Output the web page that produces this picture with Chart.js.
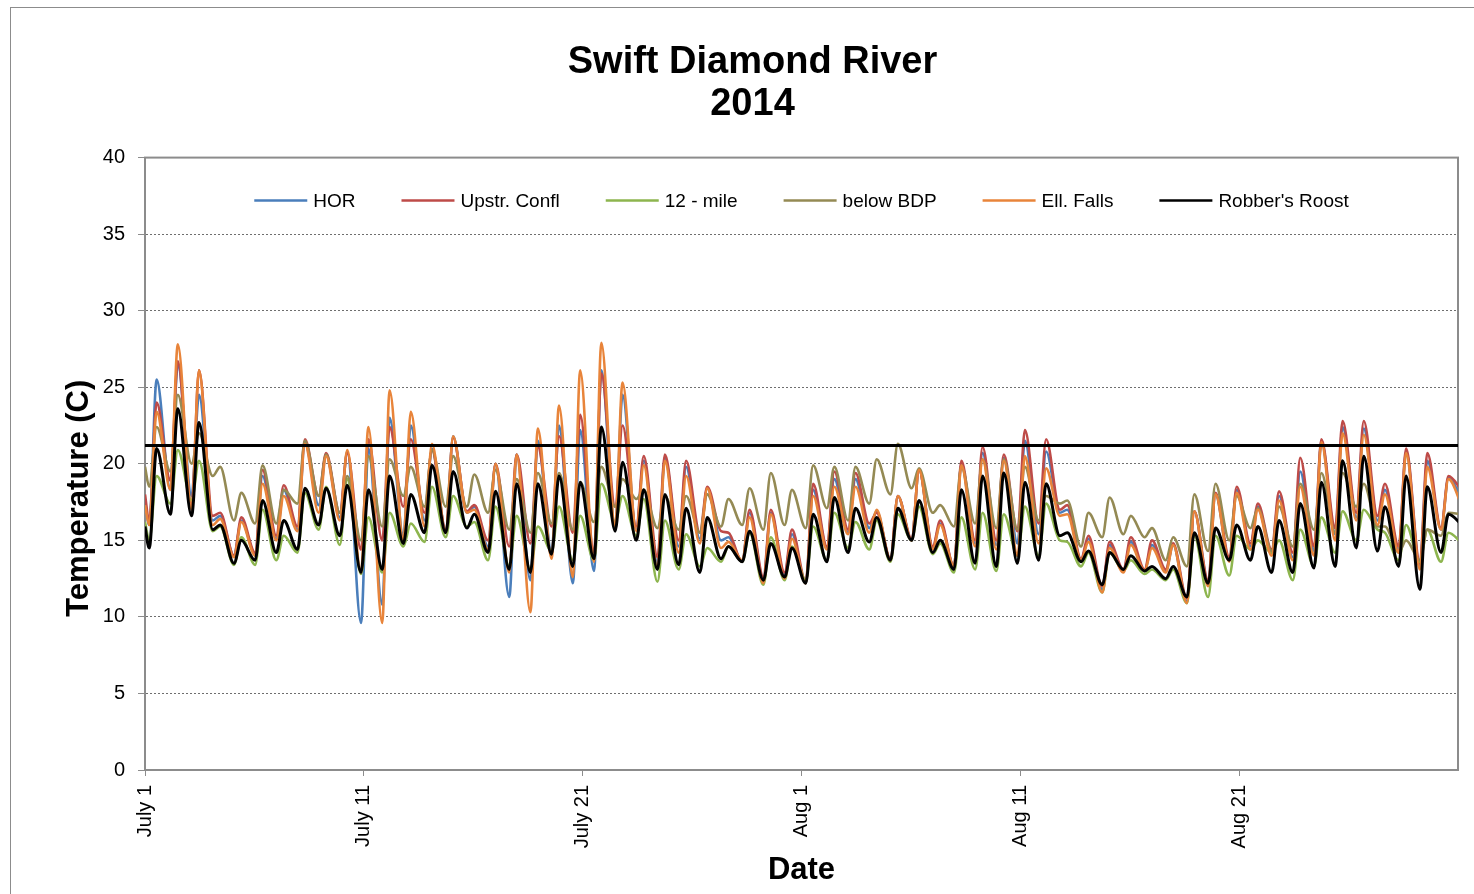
<!DOCTYPE html>
<html lang="en">
<head>
    <meta charset="UTF-8">
    <title>Swift Diamond River 2014</title>
    <style>
        html, body { margin: 0; padding: 0; background: #fff; overflow: hidden; }
        .frame {
            position: absolute; left: 10px; top: 7px;
            width: 1483px; height: 900px;
            border-top: 1px solid #8c8c8c; border-left: 1px solid #8c8c8c;
        }
        .frame canvas { display: block; }
    </style>
</head>
<body>
    <div class="frame"><canvas id="tempChart" width="1483" height="887"></canvas></div>

    <script src="https://cdn.jsdelivr.net/npm/chart.js"></script>
    <script>
        // x axis: days since July 1 (labels are evenly spaced on the original sheet)
        const totalDays = 62;
        const dateLabels = ['July 1', 'July 11', 'July 21', 'Aug 1', 'Aug 11', 'Aug 21'];
        const thresholdTemp = 21.2;

        const seriesNames = ['HOR', 'Upstr. Confl', '12 - mile', 'below BDP', 'Ell. Falls', "Robber's Roost"];
        const seriesColors = ['#4a7ebb', '#be4b48', '#8db54e', '#948a54', '#e8843a', '#000000'];

        // value at the very start of July 1
        const startTemps = [17.5, 18.0, 16.2, 19.8, 17.3, 15.9];

        // daily minimum (early morning) and maximum (afternoon), deg C
        const horLow = [16.0,18.3,17.9,16.3,14.0,14.1,15.1,15.7,17.3,16.5, 9.6,10.8,15.3,16.3,15.6,16.8,14.6,11.3,12.4,14.2,
            12.2,13.0,15.9,15.7,13.5,14.6,15.1,15.0,13.6,12.4, 12.7,12.2,14.5,15.5,15.8,13.7,15.0,14.5,13.3,14.8,
            14.7,14.8,15.4,16.8,13.7,11.8,13.0,13.0,13.0,11.0, 12.2,13.7,14.6,14.2,13.9,14.3,15.4,16.5,16.3,14.4, 13.3,15.7,17.6];
        const horHigh = [25.5,26.5,24.5,16.6,16.3,19.2,18.3,21.4,20.6,20.8, 21.0,23.0,22.5,21.0,21.8,17.2,20.0,20.6,21.5,22.5,
            22.2,26.1,24.5,20.2,20.4,19.8,18.4,15.2,16.8,16.8, 15.4,18.3,19.0,19.0,16.9,17.9,19.6,16.1,20.0,20.7,
            20.4,21.5,20.8,17.0,15.1,14.7,14.9,14.7,14.7,16.9, 18.0,18.3,17.2,17.9,19.5,21.5,22.4,22.3,18.3,20.8, 20.2,19.1];

        const upstrLow = [16.2,18.9,17.2,16.6,14.0,14.2,15.3,15.9,17.9,16.8, 14.4,15.0,17.2,16.8,15.7,16.9,15.0,14.6,14.8,15.9,
            15.5,14.2,17.2,15.9,13.9,15.0,15.5,15.6,13.6,12.6, 12.9,12.3,14.6,15.7,16.1,13.8,15.1,14.6,13.3,15.0,
            15.0,15.6,16.1,17.0,13.8,12.0,13.1,13.1,13.1,11.2, 12.4,13.9,14.8,14.4,14.2,14.6,15.8,16.8,16.6,14.6, 13.5,15.8,18.2];
        const upstrHigh = [24.0,26.7,26.1,16.8,16.5,19.6,18.6,21.6,20.7,20.7, 21.6,22.4,21.6,20.9,21.7,17.3,20.0,20.6,21.1,21.8,
            23.2,25.9,22.5,20.5,20.6,20.2,18.5,15.5,17.0,17.0, 15.7,18.7,19.5,19.4,16.8,17.9,19.6,16.3,20.2,21.1,
            20.6,22.2,21.6,17.3,15.3,14.9,15.2,15.0,14.8,16.9, 18.1,18.5,17.4,18.2,20.4,21.6,22.8,22.8,18.7,21.0, 20.7,19.2];

        const mileLow = [15.0,17.4,17.6,15.6,13.4,13.4,13.7,14.2,15.7,14.7, 12.8,12.9,14.6,14.9,15.2,15.9,13.7,13.3,13.1,14.3,
            13.7,13.7,16.2,15.3,12.3,13.1,13.3,13.6,13.6,12.1, 12.4,12.4,13.7,14.5,14.4,13.6,15.0,14.1,12.9,13.1,
            13.0,14.0,14.0,15.0,13.3,11.6,13.0,12.8,12.4,10.9, 11.3,12.7,14.4,14.2,12.4,13.3,14.2,15.0,15.7,13.7, 13.6,13.6,14.8];
        const mileHigh = [19.2,20.9,20.2,15.9,15.2,17.0,15.3,18.1,18.5,19.0, 16.5,16.8,16.1,18.5,17.9,16.2,17.2,16.6,15.9,17.2,
            16.6,18.7,17.9,17.7,16.3,15.4,14.5,14.6,15.5,15.2, 14.6,15.9,16.8,16.2,16.3,16.7,17.2,14.8,16.5,16.8,
            16.7,17.2,17.4,14.9,14.2,14.2,13.7,13.1,13.1,15.3, 15.3,15.3,15.0,15.0,15.7,16.5,16.9,17.0,15.5,16.0, 15.7,15.5];

        const bdpLow = [18.5,19.5,20.0,19.2,16.3,16.1,16.1,17.4,17.9,16.8, 15.0,15.9,17.9,17.2,17.2,17.2,16.8,15.7,15.5,16.1,
            15.7,16.2,17.2,17.7,15.8,15.7,15.5,15.9,16.0,15.7, 16.0,15.8,17.1,16.3,17.4,18.0,18.4,16.8,15.9,16.1,
            15.8,15.7,16.3,17.4,14.6,15.2,15.4,15.2,13.7,13.3, 14.3,15.0,15.8,14.3,14.6,15.7,15.5,17.2,15.9,14.2, 13.7,15.3,16.7];
        const bdpHigh = [22.4,24.5,22.0,19.8,18.1,19.9,18.3,21.5,20.6,19.2, 20.5,20.3,19.8,20.9,20.5,19.3,19.6,19.0,19.4,19.4,
            18.8,19.8,19.0,18.3,17.9,17.9,18.0,17.7,18.4,19.4, 18.3,19.9,19.8,19.8,20.3,21.3,19.7,17.3,19.8,20.3,
            20.3,19.8,17.9,17.6,16.8,17.8,16.6,15.8,15.2,18.0, 18.7,17.9,17.1,17.2,18.7,19.4,19.4,18.7,15.9,15.0, 15.7,16.8];

        const fallsLow = [16.0,18.3,17.0,16.0,13.9,14.0,15.0,15.6,16.8,16.3, 12.9,9.6,15.0,15.9,15.5,16.8,14.4,12.9,10.3,13.8,
            12.6,13.6,15.9,15.6,13.2,14.2,14.8,14.5,13.7,12.2, 12.5,12.2,14.4,15.4,15.5,13.7,15.0,14.4,13.3,14.6,
            14.4,14.0,14.8,16.6,13.7,11.6,12.9,13.0,12.9,10.9, 12.0,13.6,14.4,14.0,13.7,14.0,15.0,16.3,16.0,14.2, 13.1,15.7,17.2];
        const fallsHigh = [23.4,27.8,26.1,16.4,16.2,18.7,17.9,21.3,20.5,20.9, 22.4,24.8,23.4,21.3,21.8,17.0,20.0,20.6,22.3,23.8,
            26.1,27.9,25.3,19.9,20.2,19.2,18.4,14.9,16.5,16.7, 15.1,17.9,18.5,18.5,17.0,17.9,19.6,16.0,19.9,20.3,
            20.2,20.5,19.7,16.7,14.9,14.5,14.7,14.5,14.7,16.9, 18.0,18.1,17.0,17.6,18.5,21.4,22.0,21.9,18.0,20.7, 19.8,19.0];

        const roostLow = [14.5,16.7,16.6,15.7,13.5,13.7,14.2,14.4,16.0,15.3, 12.9,13.1,14.8,15.5,15.5,15.8,14.2,13.1,12.9,14.1,
            13.3,13.8,15.6,15.0,13.1,13.4,12.9,13.8,13.6,12.4, 12.6,12.2,13.6,14.2,14.9,13.7,15.0,14.2,13.1,13.5,
            13.3,13.5,13.7,15.3,13.6,12.1,13.1,13.0,12.5,11.3, 12.2,13.7,13.7,12.9,12.9,13.2,13.3,14.5,14.3,13.3, 11.8,14.2,16.0];
        const roostHigh = [21.0,23.6,22.7,16.0,15.0,17.6,16.3,18.4,18.4,18.6, 18.3,19.2,18.0,19.9,19.5,16.7,18.2,18.7,18.7,19.2,
            18.8,22.4,20.1,18.3,18.0,17.1,16.5,14.6,15.6,14.8, 14.5,16.7,17.8,17.1,16.5,17.1,17.6,15.0,18.3,19.2,
            19.4,18.8,18.7,15.5,14.3,14.2,14.0,13.3,13.3,15.5, 15.8,16.0,15.9,16.3,17.4,18.8,20.2,20.5,17.2,19.2, 18.5,16.7];

        const lowSets = [horLow, upstrLow, mileLow, bdpLow, fallsLow, roostLow];
        const highSets = [horHigh, upstrHigh, mileHigh, bdpHigh, fallsHigh, roostHigh];

        // min comes a little after midnight, max mid-afternoon
        function dailyCycle(start, lows, highs) {
            const pts = [{ x: 0, y: start }];
            for (let d = 0; d < lows.length; d++) {
                pts.push({ x: d + 0.2, y: lows[d] });
                if (d < highs.length) pts.push({ x: d + 0.55, y: highs[d] });
            }
            return pts;
        }

        const FONT = '"Liberation Sans", Arial, sans-serif';
        Chart.defaults.font.family = FONT;
        Chart.defaults.color = '#000';

        const datasets = seriesNames.map((name, i) => ({
            label: name,
            data: dailyCycle(startTemps[i], lowSets[i], highSets[i]),
            borderColor: seriesColors[i],
            backgroundColor: seriesColors[i],
            borderWidth: i === 5 ? 3 : 2.6,
            pointRadius: 0,
            cubicInterpolationMode: 'monotone',
            order: seriesNames.length - i
        }));
        datasets.push({
            label: 'threshold',
            data: [{ x: 0, y: thresholdTemp }, { x: totalDays, y: thresholdTemp }],
            borderColor: '#000',
            borderWidth: 3,
            pointRadius: 0,
            order: 0
        });

        // legend sits inside the plot area, as in the spreadsheet
        const insideLegend = {
            id: 'insideLegend',
            afterDatasetsDraw(chart) {
                const { ctx, chartArea } = chart;
                const lineLen = 53, textGap = 6, itemGap = 46;
                ctx.save();
                ctx.font = '19px ' + FONT;
                const widths = seriesNames.map(n => ctx.measureText(n).width);
                const total = widths.reduce((sum, w) => sum + lineLen + textGap + w, 0) + itemGap * (seriesNames.length - 1);
                let x = (chartArea.left + chartArea.right) / 2 - total / 2;
                const y = chartArea.top + 43;
                seriesNames.forEach((name, i) => {
                    ctx.strokeStyle = seriesColors[i];
                    ctx.lineWidth = 2.5;
                    ctx.beginPath();
                    ctx.moveTo(x, y);
                    ctx.lineTo(x + lineLen, y);
                    ctx.stroke();
                    ctx.fillStyle = '#000';
                    ctx.textBaseline = 'middle';
                    ctx.fillText(name, x + lineLen + textGap, y + 1);
                    x += lineLen + textGap + widths[i] + itemGap;
                });
                ctx.restore();
            }
        };

        // grey frame round the plot area
        const plotFrame = {
            id: 'plotFrame',
            beforeDatasetsDraw(chart) {
                const { ctx, chartArea } = chart;
                ctx.save();
                ctx.strokeStyle = '#8c8c8c';
                ctx.lineWidth = 2;
                ctx.strokeRect(chartArea.left, chartArea.top, chartArea.right - chartArea.left, chartArea.bottom - chartArea.top);
                ctx.restore();
            }
        };

        const ctx = document.getElementById('tempChart').getContext('2d');
        new Chart(ctx, {
            type: 'line',
            data: { datasets },
            plugins: [plotFrame, insideLegend],
            options: {
                responsive: false,
                animation: false,
                layout: { padding: 0 },
                plugins: {
                    legend: { display: false },
                    tooltip: { enabled: false },
                    title: {
                        display: true,
                        text: ['Swift Diamond River', '2014'],
                        color: '#000',
                        font: { size: 38, weight: 'bold', lineHeight: 1.1 },
                        padding: { top: 34, bottom: 32 }
                    }
                },
                scales: {
                    x: {
                        type: 'linear',
                        min: 0,
                        max: totalDays,
                        afterBuildTicks: scale => {
                            scale.ticks = dateLabels.map((_, i) => ({ value: i * totalDays / dateLabels.length }));
                        },
                        afterFit: scale => { scale.height = 125; },
                        ticks: {
                            callback: (value, index) => dateLabels[index],
                            autoSkip: false,
                            maxRotation: 90,
                            minRotation: 90,
                            padding: 9,
                            color: '#000',
                            font: { size: 20 }
                        },
                        grid: { drawOnChartArea: false, tickLength: 6, tickColor: '#8c8c8c' },
                        border: { color: '#8c8c8c', width: 2 },
                        title: {
                            display: true,
                            text: 'Date',
                            color: '#000',
                            font: { size: 31, weight: 'bold' },
                            padding: { top: 0, bottom: 6 }
                        }
                    },
                    y: {
                        min: 0,
                        max: 40,
                        afterFit: scale => { scale.width = 134; },
                        ticks: { stepSize: 5, padding: 13, color: '#000', font: { size: 20 } },
                        grid: {
                            color: c => (c.tick.value === 0 || c.tick.value === 40) ? 'rgba(0,0,0,0)' : '#6e6e6e',
                            lineWidth: 1,
                            tickLength: 7,
                            tickColor: '#8c8c8c',
                            tickBorderDash: []
                        },
                        border: { color: '#222', width: 2, dash: [2, 2] },
                        title: {
                            display: true,
                            // trailing spaces push the label down the axis, as on the sheet
                            text: 'Temperature (C)        ',
                            color: '#000',
                            font: { size: 31, weight: 'bold' },
                            padding: { top: 50, bottom: 0 }
                        }
                    },
                    // empty right-hand strip so the title centres on the whole sheet
                    yRight: {
                        position: 'right',
                        min: 0,
                        max: 40,
                        afterFit: scale => { scale.width = 36; },
                        ticks: { display: false },
                        grid: { display: false },
                        border: { display: false }
                    }
                }
            }
        });
    </script>
</body>
</html>
